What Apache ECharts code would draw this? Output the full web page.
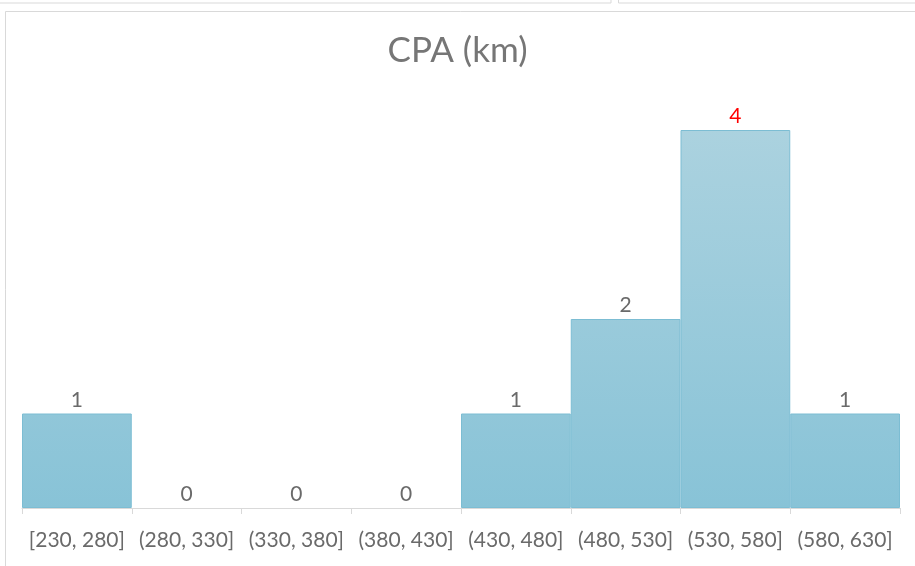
<!DOCTYPE html>
<html><head><meta charset="utf-8">
<script src="https://cdn.jsdelivr.net/npm/echarts@6/dist/echarts.min.js"></script>
<style>html,body{margin:0;padding:0;background:#fff}#c{width:915px;height:566px}</style>
</head><body><div id="c"></div>
<script>
const categories = ['[230, 280]','(280, 330]','(330, 380]','(380, 430]','(430, 480]','(480, 530]','(530, 580]','(580, 630]'];
const counts = [1, 0, 0, 0, 1, 2, 4, 1];
const highlightIndex = 6;

const chart = echarts.init(document.getElementById('c'), null, {renderer:'canvas'});
const fnt = 'Lato, "Open Sans", sans-serif';
chart.setOption({
  backgroundColor:'#fff',
  animation:false,
  title:{text:'CPA (km)', left:'center', top:28, textStyle:{fontFamily:fnt, fontSize:35, fontWeight:'normal', color:'#767676'}},
  graphic:[
    {type:'rect', shape:{x:-2, y:-10, width:613, height:13}, style:{fill:'#fff', stroke:'#d9d9d9', lineWidth:1}, silent:true},
    {type:'rect', shape:{x:618.5, y:-10, width:310, height:13}, style:{fill:'#fff', stroke:'#d9d9d9', lineWidth:1}, silent:true},
    {type:'rect', shape:{x:5.5, y:11.5, width:920, height:570}, style:{fill:'none', stroke:'#d9d9d9', lineWidth:1}, silent:true}
  ],
  grid:{left:22, right:15, top:130, bottom:58, containLabel:false},
  xAxis:{type:'category', data:categories,
    axisLine:{lineStyle:{color:'#d9d9d9', width:1}},
    axisTick:{show:true, length:6, alignWithLabel:false, lineStyle:{color:'#d9d9d9'}},
    axisLabel:{interval:0, margin:22, fontFamily:fnt, fontSize:21, color:'#6a6a6a'}},
  yAxis:{type:'value', min:0, max:4, show:false, splitLine:{show:false}},
  series:[{type:'bar',
    data:counts.map((v,i)=>({value:v,
      itemStyle: v===0 ? {borderWidth:0} : {},
      label:{color: i===highlightIndex ? '#ff0000' : '#6a6a6a'}})),
    barCategoryGap:'0%',
    itemStyle:{
      color:new echarts.graphic.LinearGradient(0,130,0,508,[{offset:0,color:'#abd2df'},{offset:1,color:'#88c3d7'}], true),
      borderColor:'#7cbdd3', borderWidth:1},
    label:{show:true, position:'top', distance:3, fontFamily:fnt, fontSize:21, color:'#6a6a6a'}
  }]
});
</script></body></html>
